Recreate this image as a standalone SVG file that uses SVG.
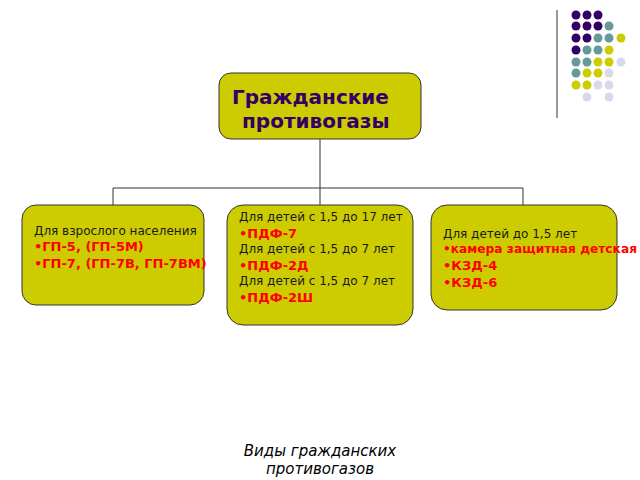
<svg xmlns="http://www.w3.org/2000/svg" width="640" height="480" viewBox="0 0 640 480">
<style>
.box{fill:#cccc00;stroke:#333;stroke-width:1}
.t{font-family:"DejaVu Sans",sans-serif;font-size:12px;fill:#1a1a1a}
.r{font-family:"DejaVu Sans",sans-serif;font-size:13px;font-weight:bold;fill:#ff0000}
.P{fill:#330066}.T{fill:#669999}.Y{fill:#cccc00}.L{fill:#d9d9ee}
</style>
<rect width="640" height="480" fill="#fff"/>
<g id="deco">
<line x1="557" y1="10" x2="557" y2="118" stroke="#999" stroke-width="2"/>
<g transform="translate(576,15)">
<circle class="P" cx="0" cy="0" r="4.5"/><circle class="P" cx="11" cy="0" r="4.5"/><circle class="P" cx="22" cy="0" r="4.5"/>
<circle class="P" cx="0" cy="11" r="4.5"/><circle class="P" cx="11" cy="11" r="4.5"/><circle class="P" cx="22" cy="11" r="4.5"/><circle class="T" cx="33" cy="11" r="4.5"/>
<circle class="P" cx="0" cy="23" r="4.5"/><circle class="P" cx="11" cy="23" r="4.5"/><circle class="T" cx="22" cy="23" r="4.5"/><circle class="T" cx="33" cy="23" r="4.5"/><circle class="Y" cx="45" cy="23" r="4.5"/>
<circle class="P" cx="0" cy="35" r="4.5"/><circle class="T" cx="11" cy="35" r="4.5"/><circle class="T" cx="22" cy="35" r="4.5"/><circle class="Y" cx="33" cy="35" r="4.5"/>
<circle class="T" cx="0" cy="47" r="4.5"/><circle class="T" cx="11" cy="47" r="4.5"/><circle class="Y" cx="22" cy="47" r="4.5"/><circle class="Y" cx="33" cy="47" r="4.5"/><circle class="L" cx="45" cy="47" r="4.5"/>
<circle class="T" cx="0" cy="58" r="4.5"/><circle class="Y" cx="11" cy="58" r="4.5"/><circle class="Y" cx="22" cy="58" r="4.5"/><circle class="L" cx="33" cy="58" r="4.5"/>
<circle class="Y" cx="0" cy="70" r="4.5"/><circle class="Y" cx="11" cy="70" r="4.5"/><circle class="L" cx="22" cy="70" r="4.5"/><circle class="L" cx="33" cy="70" r="4.5"/>
<circle class="L" cx="11" cy="82" r="4.5"/><circle class="L" cx="33" cy="82" r="4.5"/>
</g>
</g>
<g id="connectors" fill="none" stroke="#333" stroke-width="1">
<path d="M320 139V188M113 206V188H523V206M320 188V206"/>
</g>
<g id="root">
<rect class="box" x="219" y="73" width="202" height="66" rx="12"/>
<text x="232" y="104" font-family="DejaVu Sans,sans-serif" font-size="20" font-weight="bold" fill="#330066">Гражданские</text>
<text x="242" y="128" font-family="DejaVu Sans,sans-serif" font-size="20" font-weight="bold" fill="#330066">противогазы</text>
</g>
<g id="adult">
<rect class="box" x="22" y="205" width="182" height="100" rx="14"/>
<text class="t" x="34" y="235">Для взрослого населения</text>
<text class="r" x="34" y="251">•ГП-5, (ГП-5М)</text>
<text class="r" x="34" y="268">•ГП-7, (ГП-7В, ГП-7ВМ)</text>
</g>
<g id="children">
<rect class="box" x="227" y="205" width="186" height="120" rx="16"/>
<text class="t" x="239" y="221">Для детей с 1,5 до 17 лет</text>
<text class="r" x="239" y="238">•ПДФ-7</text>
<text class="t" x="239" y="253">Для детей с 1,5 до 7 лет</text>
<text class="r" x="239" y="270">•ПДФ-2Д</text>
<text class="t" x="239" y="285">Для детей с 1,5 до 7 лет</text>
<text class="r" x="239" y="302">•ПДФ-2Ш</text>
</g>
<g id="infant">
<rect class="box" x="431" y="205" width="186" height="105" rx="16"/>
<text class="t" x="443" y="238">Для детей до 1,5 лет</text>
<text class="r" x="443" y="253" font-size="11" textLength="194" lengthAdjust="spacingAndGlyphs">•камера защитная детская</text>
<text class="r" x="443" y="270">•КЗД-4</text>
<text class="r" x="443" y="287">•КЗД-6</text>
</g>
<g id="caption" font-family="DejaVu Sans,sans-serif" font-size="15" font-style="italic" fill="#000" text-anchor="middle">
<text x="320" y="456">Виды гражданских</text>
<text x="320" y="474">противогазов</text>
</g>
</svg>
